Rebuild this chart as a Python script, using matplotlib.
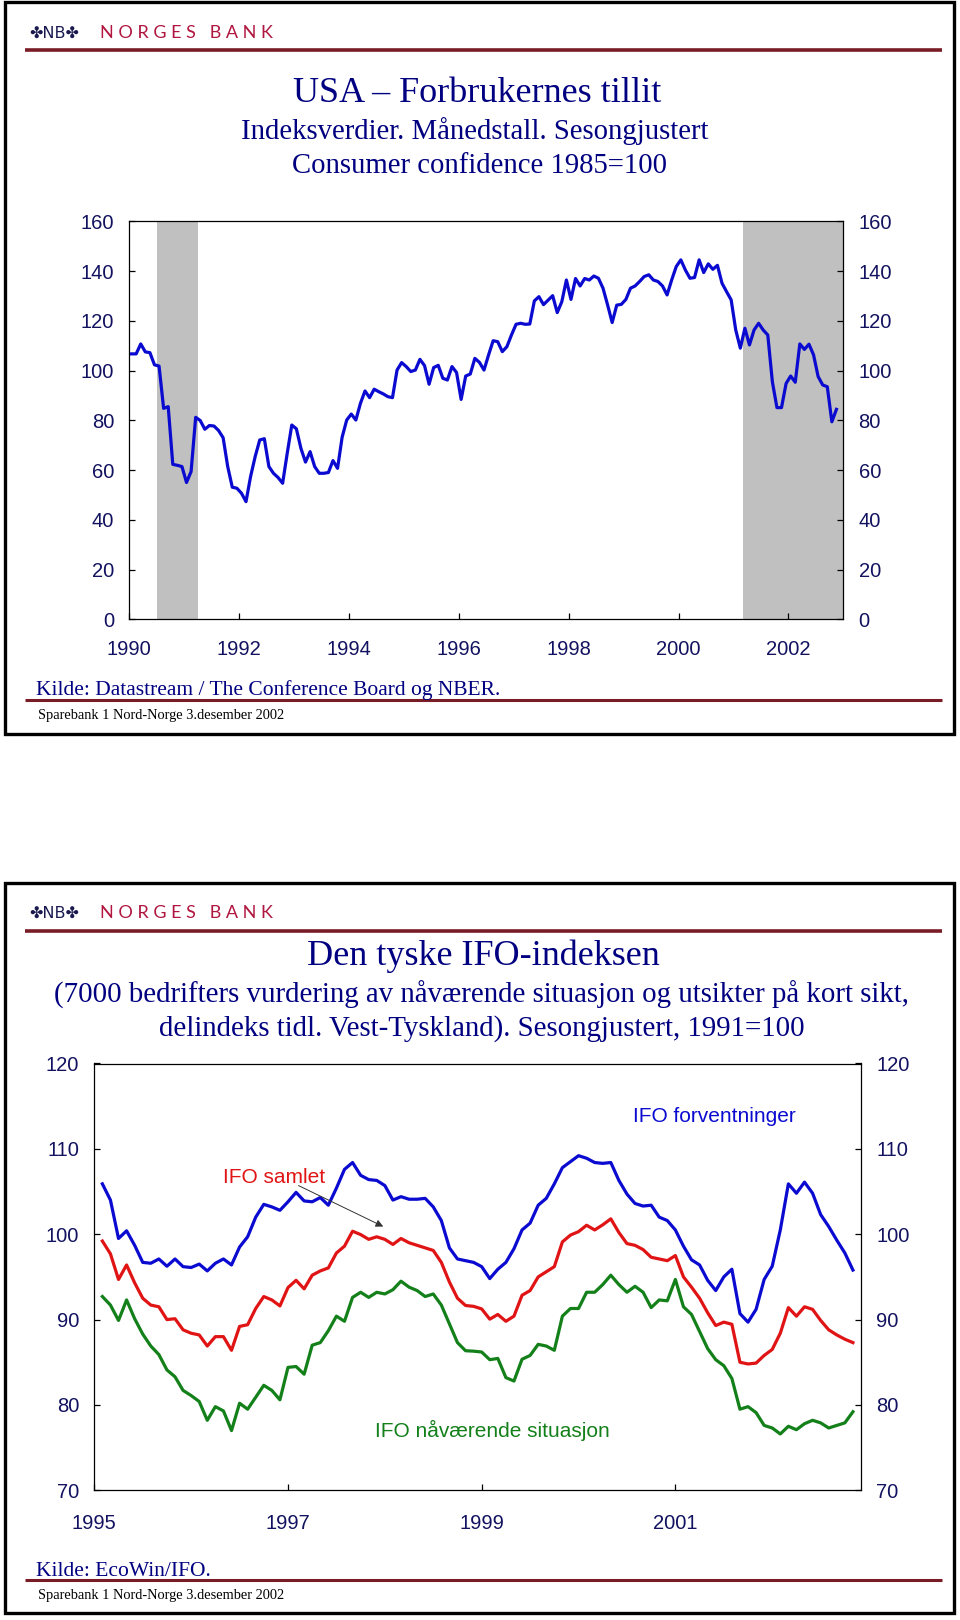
import matplotlib
matplotlib.use('Agg')
import matplotlib.pyplot as plt
from matplotlib.patches import Rectangle
import numpy as np

# USA consumer confidence, monthly Jan 1990 - Nov 2002 (1985=100)
usa_conf = [
    106.7, 106.7, 110.7, 107.5, 107.2, 102.3, 101.8, 84.8, 85.5, 62.3, 61.9, 61.4,
    55.0, 59.4, 81.2, 79.9, 76.4, 77.9, 77.7, 75.9, 73.0, 61.4, 53.1, 52.7,
    50.7, 47.3, 57.4, 65.4, 72.1, 72.6, 61.4, 58.7, 57.0, 54.7, 66.7, 78.1,
    76.6, 68.7, 63.2, 67.4, 61.4, 58.7, 58.7, 59.0, 63.8, 60.7, 73.2, 80.1,
    82.5, 80.1, 86.8, 91.8, 89.1, 92.5, 91.5, 90.6, 89.5, 89.1, 100.2, 103.2,
    101.6, 99.6, 100.2, 104.5, 102.0, 94.5, 101.2, 102.1, 96.9, 96.2, 101.6, 99.2,
    88.4, 97.8, 98.6, 104.9, 103.3, 100.2, 106.3, 112.0, 111.6, 107.6, 109.6, 114.3,
    118.6, 119.0, 118.6, 118.7, 128.0, 129.7, 126.5, 128.3, 130.1, 123.3, 127.7, 136.4,
    128.6, 137.0, 134.0, 137.0, 136.4, 138.0, 137.1, 133.1, 126.4, 119.3, 126.3, 126.6,
    128.6, 133.1, 134.0, 135.8, 137.8, 138.5, 136.4, 135.8, 134.0, 130.4, 136.4, 141.8,
    144.5, 140.4, 137.1, 137.4, 144.5, 139.4, 142.9, 140.7, 142.3, 135.1, 131.7, 128.4,
    116.3, 109.0, 117.0, 110.3, 116.3, 119.0, 116.3, 114.3, 95.5, 85.1, 85.1, 94.8,
    97.8, 95.3, 110.7, 108.5, 110.6, 106.3, 97.6, 94.2, 93.5, 79.4, 84.4,
]
usa_start_year = 1990
recession_start = [1990.5, 2001 + 2 / 12]
recession_end = [1991.25, 2003.0]
usa_xlabels = ['1990', '1992', '1994', '1996', '1998', '2000', '2002']

# IFO, monthly Feb 1995 - Nov 2002 (1991=100)
ifo_forventninger = [
    105.9, 104.0, 99.5, 100.4, 98.7, 96.7, 96.6, 97.1, 96.25, 97.1,
    96.2, 96.1, 96.5, 95.7, 96.6, 97.1, 96.4, 98.5, 99.7, 102.0,
    103.5, 103.2, 102.8, 103.8, 104.9, 103.9, 103.8, 104.3, 103.4, 105.4,
    107.6, 108.4, 106.9, 106.4, 106.3, 105.7, 104.0, 104.4, 104.1, 104.1,
    104.2, 103.2, 101.6, 98.4, 97.1, 96.9, 96.7, 96.2, 94.8, 95.9,
    96.7, 98.3, 100.5, 101.3, 103.4, 104.2, 105.9, 107.8, 108.5, 109.2,
    108.9, 108.4, 108.3, 108.4, 106.3, 104.7, 103.6, 103.3, 103.4, 102.0,
    101.6, 100.5, 98.6, 97.0, 96.4, 94.6, 93.4, 95.0, 95.9, 90.7,
    89.7, 91.2, 94.7, 96.25, 100.5, 105.9, 104.8, 106.1, 104.8, 102.3,
    100.9, 99.3, 97.8, 95.8,
]
ifo_samlet = [
    99.2, 97.7, 94.7, 96.4, 94.3, 92.5, 91.7, 91.5, 90.0, 90.1,
    88.8, 88.4, 88.2, 86.9, 88.0, 88.0, 86.4, 89.2, 89.4, 91.3,
    92.7, 92.3, 91.6, 93.75, 94.6, 93.6, 95.2, 95.7, 96.05, 97.8,
    98.6, 100.35, 99.96, 99.4, 99.7, 99.4, 98.8, 99.5, 99.0, 98.7,
    98.4, 98.1, 96.7, 94.4, 92.5, 91.65, 91.55, 91.25, 90.05, 90.6,
    89.8, 90.4, 92.85, 93.4, 95.0, 95.6, 96.2, 99.1, 99.9, 100.3,
    101.05, 100.5, 101.1, 101.8, 100.2, 98.9, 98.7, 98.2, 97.3, 97.1,
    96.9, 97.5, 95.0, 93.8, 92.5, 90.8, 89.3, 89.7, 89.45, 85.0,
    84.8, 84.9, 85.8, 86.5, 88.4, 91.4, 90.4, 91.5, 91.2, 89.9,
    88.8, 88.2, 87.7, 87.3,
]
ifo_naavaerende = [
    92.7, 91.7, 89.9, 92.3, 90.1, 88.3, 86.9, 85.9, 84.1, 83.3,
    81.7, 81.1, 80.4, 78.2, 79.8, 79.3, 77.0, 80.2, 79.5, 80.9,
    82.3, 81.7, 80.6, 84.4, 84.5, 83.6, 87.0, 87.3, 88.7, 90.4,
    89.8, 92.6, 93.2, 92.6, 93.2, 93.0, 93.5, 94.5, 93.8, 93.4,
    92.7, 93.0, 91.7, 89.5, 87.3, 86.35, 86.3, 86.2, 85.3, 85.45,
    83.2, 82.8, 85.35, 85.8, 87.1, 86.9, 86.4, 90.4, 91.3, 91.3,
    93.2, 93.2, 94.1, 95.2, 94.1, 93.2, 93.9, 93.2, 91.4, 92.3,
    92.2, 94.7, 91.5, 90.6, 88.6, 86.6, 85.3, 84.6, 83.1, 79.5,
    79.8, 79.1, 77.6, 77.3, 76.6, 77.5, 77.1, 77.8, 78.2, 77.9,
    77.3, 77.6, 77.9, 79.2,
]
ifo_start_year = 1995
ifo_first_month = 1   # Feb
ifo_xlabels = ['1995', '1997', '1999', '2001']

W, H = 960, 1620
NAVY = '#000080'
TICK_NAVY = '#121260'
RULE_RED = '#7a1c26'
LOGO_RED = '#b0163f'
SERIF = 'Liberation Serif'
SANS = 'Liberation Sans'


def px_rect(x0, y0, x1, y1):
    """pikselboks (fra toppen) -> figurkoordinater"""
    return [x0 / W, 1 - y1 / H, (x1 - x0) / W, (y1 - y0) / H]


def draw_slide(bg, top, bottom, logo_y, rule_y, foot_rule_y, foot_y, kilde, kilde_y):
    # ramme
    bg.add_patch(Rectangle((5.3, top), 948.5, bottom - top, fill=False,
                           ec='black', lw=2.4))
    # logo og linjer
    bg.text(29, logo_y, '\u2724NB\u2724', color='#1a1a50', fontsize=11.5,
            family='DejaVu Sans', va='center', ha='left')
    bg.text(100, logo_y, 'N O R G E S   B A N K', color=LOGO_RED, fontsize=13,
            family='Lato', va='center', ha='left')
    bg.plot([25, 942], [rule_y, rule_y], color=RULE_RED, lw=2.6, solid_capstyle='butt')
    bg.plot([25, 942], [foot_rule_y, foot_rule_y], color=RULE_RED, lw=2.2,
            solid_capstyle='butt')
    bg.text(36, kilde_y, kilde, color=NAVY, fontsize=15.5, family=SERIF,
            va='center', ha='left')
    bg.text(38, foot_y, 'Sparebank 1 Nord-Norge 3.desember 2002', color='black',
            fontsize=10.4, family=SERIF, va='center', ha='left')


def style_axes(ax, tick_pad_x):
    for s in ax.spines.values():
        s.set_linewidth(0.9)
        s.set_color('black')
    ax.tick_params(axis='y', which='both', left=True, right=True,
                   labelleft=True, labelright=True, direction='in',
                   length=4.5, width=0.9, pad=11, labelsize=14.5,
                   labelcolor=TICK_NAVY)
    ax.tick_params(axis='x', direction='in', length=4.5, width=0.9,
                   pad=tick_pad_x, labelsize=14.5, labelcolor=TICK_NAVY)
    for lab in ax.get_xticklabels() + ax.get_yticklabels():
        lab.set_family(SANS)


fig = plt.figure(figsize=(W / 100, H / 100), dpi=100)
bg = fig.add_axes([0, 0, 1, 1])
bg.set_xlim(0, W)
bg.set_ylim(H, 0)
bg.axis('off')

# ---------- USA ----------
draw_slide(bg, 1.5, 733.5, 33, 50, 700, 715,
           'Kilde: Datastream / The Conference Board og NBER.', 690)
bg.text(477, 94, 'USA \u2013 Forbrukernes tillit', color=NAVY, fontsize=26,
        family=SERIF, ha='center', va='center')
bg.text(475, 131, 'Indeksverdier. M\u00e5nedstall. Sesongjustert', color=NAVY,
        fontsize=20.7, family=SERIF, ha='center', va='center')
bg.text(480, 166, 'Consumer confidence 1985=100', color=NAVY, fontsize=20.7,
        family=SERIF, ha='center', va='center')

ax1 = fig.add_axes(px_rect(129.3, 221.3, 843.3, 619.3))
for a, b in zip(recession_start, recession_end):
    ax1.axvspan(a, b, color='#c0c0c0', lw=0, zorder=0)
usa_x = usa_start_year + (np.arange(len(usa_conf)) + 0.5) / 12
ax1.plot(usa_x, usa_conf, color='#0a0ad0', lw=2.3, zorder=3)
ax1.set_xlim(1990, 2003)
ax1.set_ylim(0, 160)
ax1.set_yticks(np.arange(0, 161, 20))
ax1.set_xticks([int(y) for y in usa_xlabels])
ax1.set_xticklabels(usa_xlabels)
style_axes(ax1, 15)

# ---------- IFO ----------
draw_slide(bg, 882.7, 1612.5, 913, 931, 1580, 1595.5, 'Kilde: EcoWin/IFO.', 1571)
bg.text(483, 956, 'Den tyske IFO-indeksen', color=NAVY, fontsize=26,
        family=SERIF, ha='center', va='center')
bg.text(482, 995, '(7000 bedrifters vurdering av n\u00e5v\u00e6rende situasjon og '
        'utsikter p\u00e5 kort sikt,', color=NAVY, fontsize=20.8, family=SERIF,
        ha='center', va='center')
bg.text(482, 1029, 'delindeks tidl. Vest-Tyskland). Sesongjustert, 1991=100',
        color=NAVY, fontsize=20.8, family=SERIF, ha='center', va='center')

ax2 = fig.add_axes(px_rect(94.3, 1063.5, 861.0, 1490.3))
months = np.arange(len(ifo_samlet)) + ifo_first_month
ifo_x = ifo_start_year + months / 12
ax2.plot(ifo_x, ifo_forventninger, color='#0a0ad0', lw=2.3)
ax2.plot(ifo_x, ifo_samlet, color='#e01414', lw=2.3)
ax2.plot(ifo_x, ifo_naavaerende, color='#13801a', lw=2.3)
ax2.set_xlim(1995, 1995 + 95 / 12)
ax2.set_ylim(70, 120)
ax2.set_yticks(np.arange(70, 121, 10))
ax2.set_xticks([int(y) for y in ifo_xlabels])
ax2.set_xticklabels(ifo_xlabels)
style_axes(ax2, 17)

ax2.text(1996.86, 106.6, 'IFO samlet', color='#e01414', fontsize=15,
         family=SANS, ha='center', va='center')
ax2.annotate('', xy=(1995 + 35.8 / 12, 100.9), xytext=(1995 + 25.3 / 12, 105.7),
             arrowprops=dict(arrowstyle='-|>', color='#333333', lw=0.7,
                             mutation_scale=11, shrinkA=0, shrinkB=0))
ax2.text(1995 + 66.7 / 12, 113.75, 'IFO forventninger', color='#0a0ad0',
         fontsize=15, family=SANS, ha='left', va='center')
ax2.text(1995 + 34.8 / 12, 77.0, 'IFO n\u00e5v\u00e6rende situasjon',
         color='#13801a', fontsize=15, family=SANS, ha='left', va='center')

fig.savefig('out.png', dpi=100)
